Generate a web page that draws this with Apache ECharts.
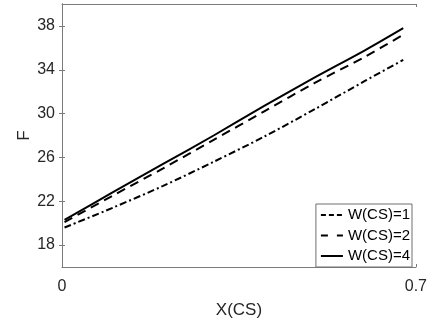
<!DOCTYPE html>
<html>
<head>
<meta charset="utf-8">
<script src="https://cdn.jsdelivr.net/npm/echarts@6/dist/echarts.min.js"></script>
<style>html,body{margin:0;padding:0;background:#fff}#c{width:430px;height:324px}</style>
</head>
<body>
<div id="c"></div>
<script>
const xValues = [0.005, 0.1, 0.2, 0.3, 0.4, 0.5, 0.6, 0.675];
const w1 = [19.6, 21.4, 23.4, 25.6, 27.9, 30.4, 33.0, 34.9];
const w2 = [20.1, 22.5, 25.0, 27.6, 30.2, 32.8, 35.2, 37.2];
const w4 = [20.3, 22.8, 25.4, 28.0, 30.7, 33.3, 35.8, 37.8];
const seriesNames = ['W(CS)=1', 'W(CS)=2', 'W(CS)=4'];
const yTicks = [18, 22, 26, 30, 34, 38];
const xTicks = [0, 0.7];

const font = 'Liberation Sans, Arial, sans-serif';
const axisCol = '#7a7a7a';
const textCol = '#262626';
const pairs = arr => xValues.map((x, i) => [x, arr[i]]);

const chart = echarts.init(document.getElementById('c'), null, {renderer: 'canvas'});
const yBase = {
  type: 'value', min: 16, max: 40,
  splitLine: {show: false},
  axisLine: {show: true, lineStyle: {color: axisCol, width: 1}},
  axisTick: {show: true, inside: true, length: 3, customValues: yTicks, lineStyle: {color: axisCol}},
};
const xBase = {
  type: 'value', min: 0, max: 0.7,
  splitLine: {show: false},
  axisLine: {show: true, onZero: false, lineStyle: {color: axisCol, width: 1}},
  axisTick: {show: true, inside: true, length: 3, customValues: xTicks, lineStyle: {color: axisCol}},
};
const lineTypes = [[7, 3, 2, 3], [9, 6], 'solid'];
const legendTypes = [[5, 3], [7, 9], 'solid'];
const datas = [w1, w2, w4];
chart.setOption({
  animation: false,
  backgroundColor: '#fff',
  grid: {left: 62, right: 14, top: 4, bottom: 56, containLabel: false},
  legend: {
    orient: 'vertical', right: 18, bottom: 57,
    data: seriesNames.map((n, i) => ({
      name: n,
      itemStyle: {opacity: 0},
      lineStyle: {color: '#000', width: 2, type: legendTypes[i]},
    })),
    itemWidth: 22, itemHeight: 14, itemGap: 4.5,
    padding: [3, 2, 3, 4],
    borderColor: '#6e6e6e', borderWidth: 1, backgroundColor: '#fff',
    textStyle: {fontFamily: font, fontSize: 15, color: '#000', lineHeight: 16},
  },
  xAxis: [
    Object.assign({}, xBase, {
      position: 'bottom',
      axisLabel: {customValues: xTicks, fontFamily: font, fontSize: 16, color: textCol, margin: 12,
        formatter: v => (v === 0 ? '0' : String(v))},
      name: 'X(CS)', nameLocation: 'middle', nameGap: 35, nameMoveOverlap: false,
      nameTextStyle: {fontFamily: font, fontSize: 17, color: textCol},
    }),
    Object.assign({}, xBase, {position: 'top', axisLabel: {show: false}}),
  ],
  yAxis: [
    Object.assign({}, yBase, {
      position: 'left',
      axisLabel: {customValues: yTicks, fontFamily: font, fontSize: 16, color: textCol, margin: 7},
      name: 'F', nameLocation: 'middle', nameGap: 29, nameRotate: 90, nameMoveOverlap: false,
      nameTextStyle: {fontFamily: font, fontSize: 17, color: textCol},
    }),
    Object.assign({}, yBase, {position: 'right', axisLabel: {show: false}}),
  ],
  series: seriesNames.map((n, i) => ({
    name: n, type: 'line', xAxisIndex: 0, yAxisIndex: 0,
    data: pairs(datas[i]),
    smooth: 0.3, symbol: 'none', showSymbol: false,
    lineStyle: {color: '#000', width: 2, type: lineTypes[i]},
    itemStyle: {color: '#000'},
    z: 3 - i,
  })),
});
</script>
</body>
</html>
